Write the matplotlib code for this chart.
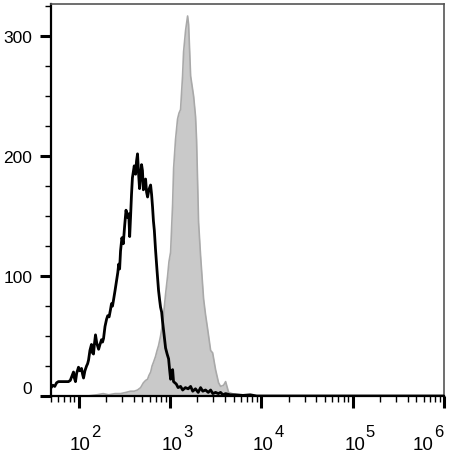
import matplotlib
matplotlib.use('Agg')
import matplotlib.pyplot as plt
import matplotlib.ticker as mticker
import numpy as np

plt.rcParams['font.family'] = ['Liberation Sans', 'DejaVu Sans']

# black (unstained/isotype) histogram, x as log10 of fluorescence
black_log = [1.70, 1.72, 1.74, 1.76, 1.78, 1.80, 1.83, 1.86, 1.89, 1.91,
             1.93, 1.945, 1.955, 1.967, 1.98, 2.00, 2.015, 2.033, 2.045, 2.055,
             2.07, 2.088, 2.10, 2.11, 2.125, 2.142, 2.153, 2.164, 2.175, 2.186,
             2.20, 2.22, 2.235, 2.252, 2.263, 2.274, 2.29, 2.307, 2.32, 2.335,
             2.35, 2.361, 2.372, 2.383, 2.40, 2.416, 2.43, 2.44, 2.45, 2.46,
             2.475, 2.49, 2.505, 2.52, 2.537, 2.55, 2.56, 2.57, 2.58, 2.59,
             2.60, 2.61, 2.625, 2.635, 2.646, 2.657, 2.668, 2.68, 2.69, 2.70,
             2.71, 2.72, 2.734, 2.745, 2.756, 2.77, 2.789, 2.80, 2.81, 2.82,
             2.83, 2.843, 2.86, 2.876, 2.888, 2.898, 2.91, 2.92, 2.935, 2.953,
             2.97, 2.986, 2.997, 3.008, 3.02, 3.03, 3.04, 3.055, 3.07, 3.09,
             3.117, 3.14, 3.17, 3.20, 3.227, 3.25, 3.28, 3.31, 3.336, 3.36,
             3.39, 3.42, 3.446, 3.47, 3.50, 3.53, 3.555, 3.58, 3.61, 3.66,
             3.72, 3.80, 3.88, 3.95, 4.10, 6.00]
black_count = [7, 9, 8, 11, 12, 12, 12, 12, 12, 13,
               17, 20, 15, 12, 19, 24, 21, 23, 18, 15,
               21, 25, 27, 30, 38, 43, 36, 35, 44, 51,
               44, 39, 43, 47, 45, 48, 58, 64, 67, 66,
               72, 77, 75, 80, 88, 96, 103, 110, 106, 121,
               132, 127, 142, 155, 149, 152, 133, 150, 168, 182,
               187, 192, 185, 196, 202, 186, 173, 184, 193, 188,
               172, 176, 181, 170, 166, 172, 176, 168, 158, 146,
               138, 122, 104, 88, 80, 74, 70, 62, 52, 40,
               35, 31, 22, 14, 21, 22, 12, 11, 10, 7,
               8, 5, 7, 6, 8, 4, 6, 3, 7, 4,
               5, 3, 5, 2, 3, 2, 3, 1, 2, 1,
               1, 0.5, 1, 0, 0, 0]

# gray filled (stained) histogram
gray_log = [1.70, 2.10, 2.20, 2.27, 2.33, 2.40, 2.46, 2.52, 2.57, 2.61,
            2.646, 2.68, 2.71, 2.735, 2.756, 2.77, 2.79, 2.805, 2.82, 2.843,
            2.86, 2.876, 2.898, 2.915, 2.93, 2.953, 2.975, 2.99, 3.008, 3.03,
            3.041, 3.062, 3.084, 3.10, 3.117, 3.139, 3.15, 3.172, 3.194, 3.205,
            3.227, 3.26, 3.281, 3.292, 3.303, 3.314, 3.336, 3.369, 3.39, 3.413,
            3.446, 3.468, 3.50, 3.533, 3.555, 3.588, 3.61, 3.643, 3.72, 3.774,
            6.00]
gray_count = [0, 0, 1, 2, 1, 2, 2, 3, 4, 4,
              5, 7, 11, 13, 14, 17, 20, 25, 28, 33,
              38, 42, 50, 58, 67, 85, 100, 112, 120, 160,
              190, 214, 231, 236, 239, 267, 287, 305, 317, 310,
              267, 250, 233, 214, 180, 145, 117, 81, 68, 56,
              38, 36, 22, 11, 8, 9, 12, 3, 1, 0,
              0]

y_ticks = [0, 100, 200, 300]
x_decades = [2, 3, 4, 5, 6]

fig = plt.figure(figsize=(4.57, 4.60), dpi=100)
ax = fig.add_axes([51 / 457, 1 - 397 / 460, (444 - 51) / 457, (397 - 5) / 460])

gx = 10 ** np.array(gray_log)
bx = 10 ** np.array(black_log)
ax.fill_between(gx, 0, gray_count, color='#c9c9c9', linewidth=0, zorder=1)
ax.plot(gx, gray_count, color='#a9a9a9', linewidth=1.2, zorder=2)
ax.plot(bx, black_count, color='black', linewidth=2.0, zorder=3)

ax.set_xscale('log')
ax.set_xlim(50, 1e6)
ax.set_ylim(0, 327)

ax.set_yticks(y_ticks)
ax.set_yticklabels([str(v) for v in y_ticks])
ax.yaxis.set_minor_locator(mticker.MultipleLocator(25))
ax.tick_params(axis='y', which='major', length=8, width=2.2, labelsize=12.5, pad=5.5)
ax.tick_params(axis='y', which='minor', length=4.3, width=1)
ax.get_yticklabels()[0].set_va('bottom')

ax.set_xticks([10.0 ** k for k in x_decades])
ax.set_xticklabels([])
ax.xaxis.set_minor_locator(mticker.LogLocator(base=10, subs=np.arange(2, 10)))
ax.xaxis.set_minor_formatter(mticker.NullFormatter())
ax.tick_params(axis='x', which='major', length=8.5, width=2.2)
ax.tick_params(axis='x', which='minor', length=4.5, width=1)

# decade labels: "10" plus a large raised exponent
for k in x_decades:
    dx = 2 if k < 6 else -21
    ax.annotate('10', xy=(10.0 ** k, 0), xycoords=('data', 'axes fraction'),
                xytext=(dx * 0.72, -38), textcoords='offset points',
                ha='center', va='baseline', fontsize=13.5, annotation_clip=False)
    ax.annotate(str(k), xy=(10.0 ** k, 0), xycoords=('data', 'axes fraction'),
                xytext=((dx + 11) * 0.72, -29), textcoords='offset points',
                ha='left', va='baseline', fontsize=12, annotation_clip=False)

ax.spines['left'].set_linewidth(1.6)
ax.spines['bottom'].set_linewidth(1.6)
ax.spines['top'].set_color('#555555')
ax.spines['right'].set_color('#555555')
ax.spines['top'].set_linewidth(1.2)
ax.spines['right'].set_linewidth(1.2)

plt.savefig('out.png', dpi=100)
